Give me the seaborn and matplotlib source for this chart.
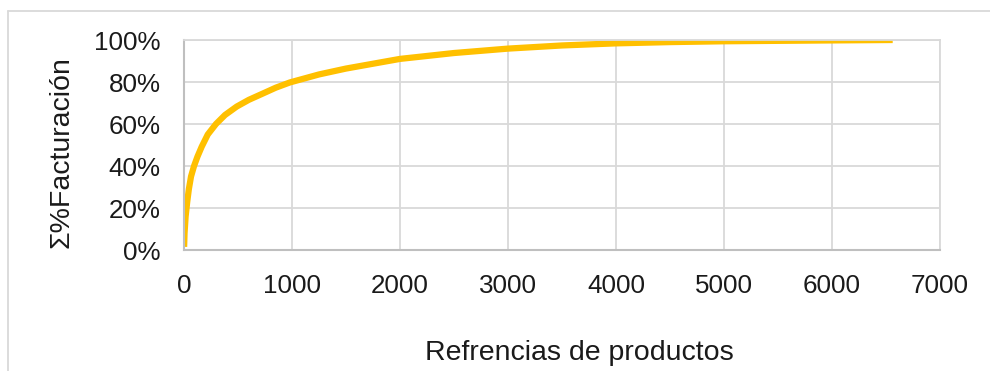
import matplotlib
matplotlib.use("Agg")
import matplotlib.pyplot as plt
from matplotlib.lines import Line2D
from matplotlib.ticker import PercentFormatter
import pandas as pd
import seaborn as sns

# Curva ABC: referencias ordenadas vs % acumulado de facturación
referencias = [1, 5, 15, 30, 45, 65, 93, 125, 164, 220, 296, 380, 488, 600,
               734, 850, 981, 1250, 1500, 2000, 2500, 3000, 3500, 4000, 4500,
               5000, 5500, 6000, 6562]
facturacion_acum = [1.5, 8, 16, 23, 29, 35, 40, 44.5, 49.2, 55, 60, 64.3, 68.3,
                    71.5, 74.6, 77.3, 79.8, 83.6, 86.4, 91, 93.8, 95.9, 97.4,
                    98.4, 99, 99.4, 99.6, 99.8, 100]

xticks = [0, 1000, 2000, 3000, 4000, 5000, 6000, 7000]
yticks = [0, 20, 40, 60, 80, 100]

df = pd.DataFrame({"ref": referencias, "fact": facturacion_acum})

sns.set_style("white")
plt.rcParams["font.family"] = ["Liberation Sans", "DejaVu Sans"]

fig = plt.figure(figsize=(9.9, 3.71), dpi=100)
ax = fig.add_axes([184 / 990, 1 - 250 / 371, 756 / 990, 210 / 371])

sns.lineplot(data=df, x="ref", y="fact", ax=ax, color="#FFC000",
             linewidth=4.5, solid_capstyle="butt", solid_joinstyle="round")

ax.set_xlim(0, 7000)
ax.set_ylim(0, 100)
ax.set_xticks(xticks)
ax.set_yticks(yticks)
ax.yaxis.set_major_formatter(PercentFormatter(decimals=0))
ax.grid(True, color="#D9D9D9", linewidth=1.3)
ax.set_axisbelow(True)
for side in ["top", "right"]:
    ax.spines[side].set_color("#D9D9D9")
    ax.spines[side].set_linewidth(1.3)
for side in ["left", "bottom"]:
    ax.spines[side].set_color("#BFBFBF")
    ax.spines[side].set_linewidth(1.5)
ax.tick_params(length=0, labelsize=18.7, colors="#1a1a1a")
ax.tick_params(axis="x", pad=17)
ax.tick_params(axis="y", pad=17)
ax.set_xlabel("")
ax.set_ylabel("")

fig.text(62 / 990, 1 - 152 / 371, "Σ%Facturación", rotation=90,
         ha="center", va="center", fontsize=20.5, color="#1a1a1a")
fig.text(579 / 990, 1 - 360 / 371, "Refrencias de productos",
         ha="center", va="baseline", fontsize=20.5, color="#1a1a1a")

# marco del gráfico
fig.add_artist(Line2D([8 / 990, 1], [1 - 11 / 371, 1 - 11 / 371],
                      color="#D9D9D9", linewidth=1.3))
fig.add_artist(Line2D([8 / 990, 8 / 990], [0, 1 - 11 / 371],
                      color="#D9D9D9", linewidth=1.3))

fig.savefig("out.png", dpi=100, facecolor="white")
